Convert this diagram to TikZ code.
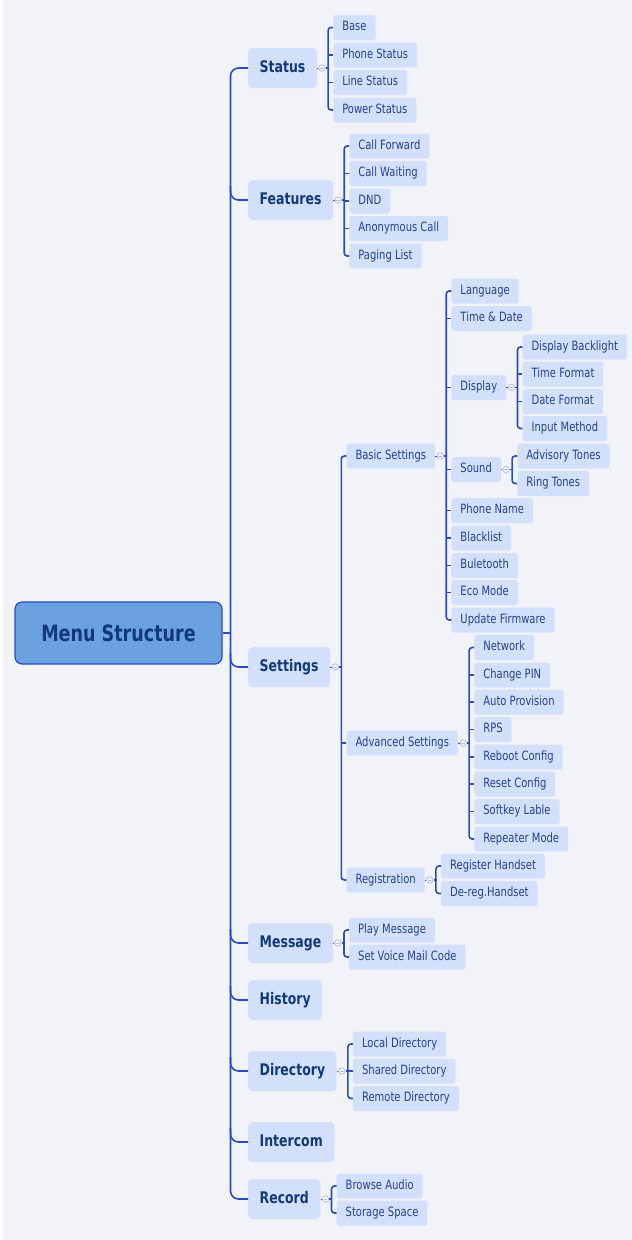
\documentclass[tikz,border=0pt]{standalone}
\usepackage{fontspec}
\setmainfont{DejaVu Sans}[FakeStretch=0.78]
\usepackage{tikz}
\usetikzlibrary{positioning, calc}
\definecolor{pagebg}{HTML}{F2F3F9}
\definecolor{boxfill}{HTML}{D3E0FC}
\definecolor{rootfill}{HTML}{6AA2E0}
\definecolor{linkblue}{HTML}{2B4CC6}
\definecolor{navy}{HTML}{123A78}
\definecolor{leaftext}{HTML}{24428C}
\definecolor{knobgray}{HTML}{B8C2DE}

\begin{document}
\begin{tikzpicture}[
  x=1pt, y=-1pt,
  root/.style={draw=linkblue, line width=1.2pt, fill=rootfill, rounded corners=7pt,
               minimum width=207pt, minimum height=62pt,
               font=\fontsize{22.5}{26}\selectfont\bfseries, text=navy},
  topic/.style={fill=boxfill, rounded corners=4pt, anchor=west,
                minimum height=40pt, inner xsep=11.5pt, inner ysep=0pt,
                text height=11.8pt, text depth=3.3pt,
                font=\fontsize{16}{19}\selectfont\bfseries, text=navy},
  leaf/.style={fill=boxfill, rounded corners=2.5pt, anchor=west,
               minimum height=25pt, inner xsep=9pt, inner ysep=0pt,
               text height=9.4pt, text depth=2.7pt,
               font=\fontsize{12.8}{15}\selectfont, text=leaftext},
  knob/.style={circle, draw=knobgray, fill=pagebg, line width=0.8pt,
               minimum size=6.5pt, inner sep=0pt,
               path picture={\draw[knobgray, line width=0.6pt]
                 ([xshift=-1.8pt]path picture bounding box.center) --
                 ([xshift=1.8pt]path picture bounding box.center);}},
  spine/.style={draw=linkblue, line width=1.6pt, rounded corners=8pt},
  link/.style={draw=linkblue, line width=1.6pt}
]
  % page
  \useasboundingbox (0,0) rectangle (632,1240);
  \fill[white] (0,0) rectangle (632,1240);
  \fill[pagebg] (3,0) rectangle (632,1240);

  % root and first level
  \node[root] (menu) at (118.5,633) {Menu Structure};
  \node[topic] (status) at (248,68) {Status};
  \node[topic] (features) at (248,200) {Features};
  \node[topic] (settings) at (248,667) {Settings};
  \node[topic] (message) at (248,943) {Message};
  \node[topic] (history) at (248,1000) {History};
  \node[topic] (directory) at (248,1071) {Directory};
  \node[topic] (intercom) at (248,1142) {Intercom};
  \node[topic] (record) at (248,1199) {Record};

  % second level
  \coordinate (status-x) at ([xshift=16pt]status.east);
  \foreach \n/\lbl/\y in {base/Base/27.5, phone/Phone Status/55,
      line/Line Status/82.5, power/Power Status/110}
    \node[leaf] (\n) at (status-x |- 0,\y) {\lbl};

  \coordinate (features-x) at ([xshift=16pt]features.east);
  \foreach \n/\lbl/\y in {forward/Call Forward/146, waiting/Call Waiting/173.5,
      dnd/DND/201, anonymous/Anonymous Call/228.5, paging/Paging List/256}
    \node[leaf] (\n) at (features-x |- 0,\y) {\lbl};

  \coordinate (settings-x) at ([xshift=16pt]settings.east);
  \node[leaf] (basic) at (settings-x |- 0,456) {Basic Settings};
  \node[leaf] (advanced) at (settings-x |- 0,743) {Advanced Settings};
  \node[leaf] (reg) at (settings-x |- 0,880) {Registration};

  \coordinate (message-x) at ([xshift=16pt]message.east);
  \node[leaf] (play) at (message-x |- 0,930) {Play Message};
  \node[leaf] (voicemail) at (message-x |- 0,957) {Set Voice Mail Code};

  \coordinate (directory-x) at ([xshift=16pt]directory.east);
  \foreach \n/\lbl/\y in {local/Local Directory/1044, shared/Shared Directory/1071,
      remote/Remote Directory/1098.5}
    \node[leaf] (\n) at (directory-x |- 0,\y) {\lbl};

  \coordinate (record-x) at ([xshift=16pt]record.east);
  \node[leaf] (browse) at (record-x |- 0,1186) {Browse Audio};
  \node[leaf] (storage) at (record-x |- 0,1213) {Storage Space};

  % third level
  \coordinate (basic-x) at ([xshift=16pt]basic.east);
  \foreach \n/\lbl/\y in {language/Language/291, timedate/Time \& Date/318.5,
      display/Display/387.5, sound/Sound/469.5, phonename/Phone Name/510.5,
      blacklist/Blacklist/538, bluetooth/Buletooth/565.5, eco/Eco Mode/592.5,
      firmware/Update Firmware/620}
    \node[leaf] (\n) at (basic-x |- 0,\y) {\lbl};

  \coordinate (advanced-x) at ([xshift=16pt]advanced.east);
  \foreach \n/\lbl/\y in {network/Network/647.5, pin/Change PIN/675,
      provision/Auto Provision/702, rps/RPS/729.5, reboot/Reboot Config/757,
      reset/Reset Config/784, softkey/Softkey Lable/811.5, repeater/Repeater Mode/839}
    \node[leaf] (\n) at (advanced-x |- 0,\y) {\lbl};

  \coordinate (reg-x) at ([xshift=16pt]reg.east);
  \node[leaf] (reghs) at (reg-x |- 0,866) {Register Handset};
  \node[leaf] (dereg) at (reg-x |- 0,893.5) {De-reg.Handset};

  % fourth level
  \coordinate (display-x) at ([xshift=16pt]display.east);
  \foreach \n/\lbl/\y in {backlight/Display Backlight/347, timefmt/Time Format/374,
      datefmt/Date Format/401.5, input/Input Method/428.5}
    \node[leaf] (\n) at (display-x |- 0,\y) {\lbl};

  \coordinate (sound-x) at ([xshift=16pt]sound.east);
  \node[leaf] (advisory) at (sound-x |- 0,456) {Advisory Tones};
  \node[leaf] (ring) at (sound-x |- 0,483.5) {Ring Tones};

  % spine
  \coordinate (trunk) at (230.5,633);
  \draw[spine] (menu.east) -- (trunk);
  \draw[spine] (status.west) -| (trunk |- record.west) -- (record.west);
  \foreach \n in {features,settings,message,history,directory,intercom}
    \draw[spine] (trunk |- \n.west) ++(0,-14) |- (\n.west);

  % brackets
  \draw[link, rounded corners=3pt] (base.west) -- ++(-5pt,0) |- (power.west);
  \foreach \n in {phone,line} \draw[link] (\n.west) -- ++(-5pt,0);
  \draw[link, rounded corners=3pt] (forward.west) -- ++(-5pt,0) |- (paging.west);
  \foreach \n in {waiting,dnd,anonymous} \draw[link] (\n.west) -- ++(-5pt,0);
  \draw[link, rounded corners=3pt] (basic.west) -- ++(-5pt,0) |- (reg.west);
  \draw[link] (advanced.west) -- ++(-5pt,0);
  \draw[link, rounded corners=3pt] (language.west) -- ++(-5pt,0) |- (firmware.west);
  \foreach \n in {timedate,display,sound,phonename,blacklist,bluetooth,eco}
    \draw[link] (\n.west) -- ++(-5pt,0);
  \draw[link, rounded corners=3pt] (backlight.west) -- ++(-5pt,0) |- (input.west);
  \foreach \n in {timefmt,datefmt} \draw[link] (\n.west) -- ++(-5pt,0);
  \draw[link, rounded corners=3pt] (advisory.west) -- ++(-5pt,0) |- (ring.west);
  \draw[link, rounded corners=3pt] (network.west) -- ++(-5pt,0) |- (repeater.west);
  \foreach \n in {pin,provision,rps,reboot,reset,softkey}
    \draw[link] (\n.west) -- ++(-5pt,0);
  \draw[link, rounded corners=3pt] (reghs.west) -- ++(-5pt,0) |- (dereg.west);
  \draw[link, rounded corners=3pt] (play.west) -- ++(-5pt,0) |- (voicemail.west);
  \draw[link, rounded corners=3pt] (local.west) -- ++(-5pt,0) |- (remote.west);
  \draw[link] (shared.west) -- ++(-5pt,0);
  \draw[link, rounded corners=3pt] (browse.west) -- ++(-5pt,0) |- (storage.west);

  % collapse knobs
  \foreach \p in {status,features,settings,message,directory,record,
      basic,advanced,reg,display,sound} {
    \node[knob] (\p-k) at ([xshift=5pt]\p.east) {};
    \draw[link, line width=0.8pt] (\p.east) -- (\p-k.west);
    \draw[link] (\p-k.east) -- ++(3pt,0);
  }
\end{tikzpicture}
\end{document}
